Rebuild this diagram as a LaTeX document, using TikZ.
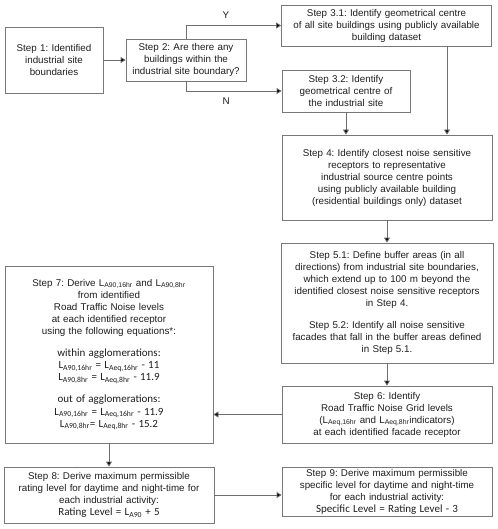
\documentclass[tikz,border=0pt]{standalone}
\usepackage{fontspec}
\setmainfont{Liberation Sans}
\newfontfamily\calib{Carlito}
\usetikzlibrary{arrows.meta,calc}
\definecolor{boxgray}{RGB}{120,120,120}
\definecolor{linegray}{RGB}{110,110,110}
\definecolor{txt}{RGB}{30,30,30}
\newcommand{\sbs}[1]{\textsubscript{#1}}
\frenchspacing
\hyphenpenalty=10000
\exhyphenpenalty=10000
\begin{document}
\begin{tikzpicture}[x=1pt,y=-1pt,
  stepbox/.style={draw=boxgray, line width=0.8pt, fill=white, align=center, inner sep=2pt,
    text=txt, font=\fontsize{9.8}{12}\selectfont},
  conn/.style={draw=linegray, line width=0.8pt, -{Triangle[length=5pt,width=6pt,fill=black]}},
  lbl/.style={font=\fontsize{9.8}{12}\selectfont, text=txt}
]
\useasboundingbox (0,0) rectangle (497,529);
\node[stepbox, minimum width=98pt, minimum height=66pt, text width=94pt] (s1) at (54,60)
  {Step 1: Identified\\ industrial site\\ boundaries};
\node[stepbox, minimum width=118pt, minimum height=42pt, text width=116pt] (s2) at (186,60)
  {Step 2: Are there any\\ buildings within the\\ industrial site boundary?};
\node[stepbox, minimum width=209pt, minimum height=41pt, text width=206pt] (s31) at (386.5,25.5)
  {Step 3.1: Identify geometrical centre\\ of all site buildings using publicly available\\ building dataset};
\node[stepbox, minimum width=128pt, minimum height=42pt, text width=124pt] (s32) at (346,91)
  {Step 3.2: Identify\\ geometrical centre of\\ the industrial site};
\node[stepbox, minimum width=210pt, minimum height=85pt, text width=206pt] (s4) at (387,177.5)
  {Step 4: Identify closest noise sensitive\\ receptors to representative\\ industrial source centre points\\ using publicly available building\\ (residential buildings only) dataset};
\node[stepbox, minimum width=210pt, minimum height=120pt, text width=208pt] (s5) at (387,303)
  {Step 5.1: Define buffer areas (in all\\ directions) from industrial site boundaries,\\ which extend up to 100 m beyond the\\ identified closest noise sensitive receptors\\ in Step 4.\\[10pt]
   Step 5.2: Identify all noise sensitive\\ facades that fall in the buffer areas defined\\ in Step 5.1.};
\node[stepbox, minimum width=210pt, minimum height=57pt, text width=206pt] (s6) at (387,414.5)
  {Step 6: Identify\\ Road Traffic Noise Grid levels\\ (L\sbs{Aeq,16hr} and L\sbs{Aeq,8hr}indicators)\\ at each identified facade receptor};
\node[stepbox, minimum width=208pt, minimum height=177pt, text width=204pt] (s7) at (109,354.5)
  {Step 7: Derive L\sbs{A90,16hr} and L\sbs{A90,8hr}\\ from identified\\ Road Traffic Noise levels\\ at each identified receptor\\ using the following equations*:\\[10pt]
   {\calib\fontsize{11}{12.2}\selectfont within agglomerations:\\ L\sbs{A90,16hr} = L\sbs{Aeq,16hr} - 11\\ L\sbs{A90,8hr} = L\sbs{Aeq,8hr} - 11.9\\[10pt]
   out of agglomerations:\\ L\sbs{A90,16hr} = L\sbs{Aeq,16hr} - 11.9\\ L\sbs{A90,8hr}= L\sbs{Aeq,8hr} - 15.2}};
\node[stepbox, minimum width=208pt, minimum height=56pt, text width=206pt] (s8) at (109,495)
  {Step 8: Derive maximum permissible\\ rating level for daytime and night-time for\\ each industrial activity:\\ {\calib\fontsize{11}{12}\selectfont Rating Level = L\sbs{A90} + 5}};
\node[stepbox, minimum width=210pt, minimum height=47pt, text width=206pt] (s9) at (387,491.5)
  {Step 9: Derive maximum permissible\\ specific level for daytime and night-time\\ for each industrial activity:\\ {\calib\fontsize{11}{12}\selectfont Specific Level = Rating Level - 3}};
% connectors
\draw[conn] (s1) -- (s2);
\draw[conn] (s2.north) |- node[lbl, pos=0.71, above=3pt] {Y} (s31.west);
\draw[conn] (s2.south) |- node[lbl, pos=0.71, below=3pt] {N} (s32.west);
\draw[conn] (s32) -- (s32 |- s4.north);
\coordinate (c31) at (447,0);
\draw[conn] (c31 |- s31.south) -- (c31 |- s4.north);
\draw[conn] (s4) -- (s5);
\draw[conn] (s5) -- (s6);
\draw[conn] (s6.west) -- (s7.east |- s6.west);
\draw[conn] (s7) -- (s8);
\draw[conn] (s8.east) -- (s9.west |- s8.east);
\end{tikzpicture}
\end{document}
